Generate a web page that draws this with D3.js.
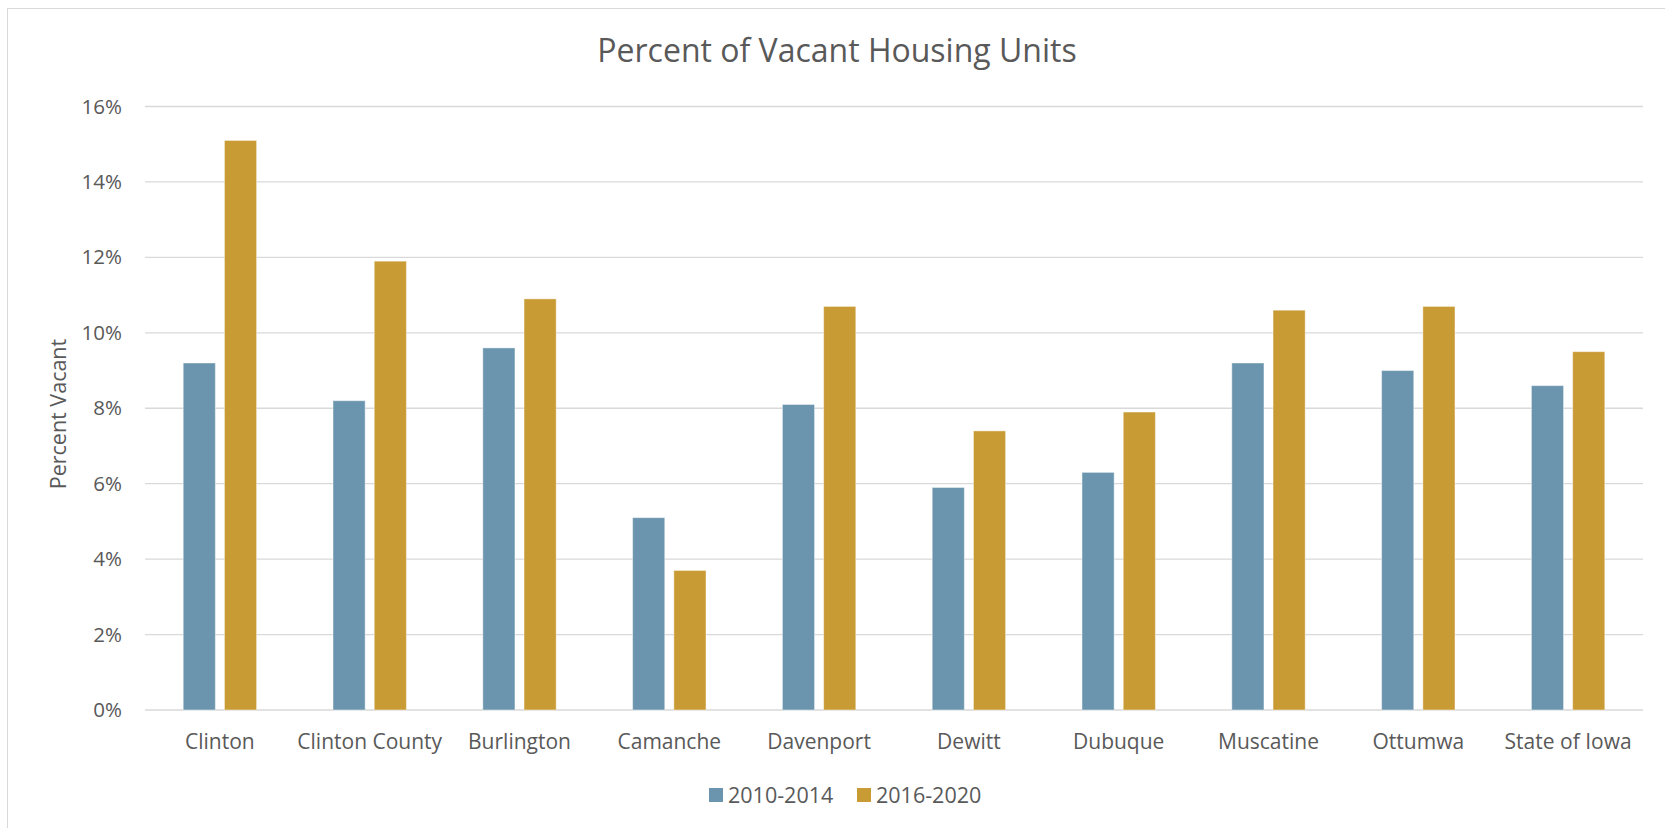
<!DOCTYPE html>
<html lang="en">
<head>
<meta charset="UTF-8">
<script src="https://d3js.org/d3.v7.min.js"></script>
<title>Percent of Vacant Housing Units</title>
<style>
    body { margin: 0; background: #fff; }
    svg text { font-family: "Open Sans", sans-serif; fill: #595959; }
</style>
</head>
<body>
<script>
    // Data
    const places = ['Clinton', 'Clinton County', 'Burlington', 'Camanche', 'Davenport',
        'Dewitt', 'Dubuque', 'Muscatine', 'Ottumwa', 'State of Iowa'];
    const seriesNames = ['2010-2014', '2016-2020'];
    const vacant2010 = [9.2, 8.2, 9.6, 5.1, 8.1, 5.9, 6.3, 9.2, 9.0, 8.6];
    const vacant2016 = [15.1, 11.9, 10.9, 3.7, 10.7, 7.4, 7.9, 10.6, 10.7, 9.5];
    const yTicks = [0, 2, 4, 6, 8, 10, 12, 14, 16];

    const W = 1665, H = 828;
    const colors = d3.scaleOrdinal().domain(seriesNames).range(['#6b95ae', '#c99b34']);

    const svg = d3.select('body').append('svg')
        .attr('width', W)
        .attr('height', H);

    // chart area border
    svg.append('rect')
        .attr('x', 7.5).attr('y', 8.5)
        .attr('width', W).attr('height', H)
        .attr('fill', 'none')
        .attr('stroke', '#d9d9d9');

    const plot = { left: 145, right: 1643, top: 106.5, bottom: 710 };

    const x0 = d3.scaleBand()
        .domain(places)
        .range([plot.left, plot.right])
        .paddingInner(0.51)
        .paddingOuter(0.255);

    const x1 = d3.scaleBand()
        .domain(seriesNames)
        .range([0, x0.bandwidth()])
        .paddingInner(0.22);

    const y = d3.scaleLinear()
        .domain([0, 16])
        .range([plot.bottom, plot.top]);

    // gridlines
    svg.append('g')
        .selectAll('line')
        .data(yTicks)
        .enter()
        .append('line')
        .attr('x1', plot.left)
        .attr('x2', plot.right)
        .attr('y1', d => y(d))
        .attr('y2', d => y(d))
        .attr('stroke', '#d9d9d9')
        .attr('stroke-width', 1.3);

    // y axis labels
    const yAxis = svg.append('g')
        .attr('transform', `translate(${plot.left - 23}, 0)`)
        .call(d3.axisLeft(y).tickValues(yTicks).tickSize(0).tickPadding(0).tickFormat(d => d + '%'));
    yAxis.select('.domain').remove();
    yAxis.selectAll('text')
        .attr('font-size', '20.5px')
        .attr('font-family', '"Open Sans", sans-serif')
        .attr('fill', '#595959');

    // x axis labels
    const xAxis = svg.append('g')
        .attr('transform', `translate(0, ${plot.bottom})`)
        .call(d3.axisBottom(x0).tickSize(0).tickPadding(24));
    xAxis.select('.domain').remove();
    xAxis.selectAll('text')
        .attr('font-size', '21px')
        .attr('font-family', '"Open Sans", sans-serif')
        .attr('fill', '#595959');

    // bars
    const rows = places.map((p, i) => ({ place: p, values: [vacant2010[i], vacant2016[i]] }));

    svg.append('g')
        .selectAll('g')
        .data(rows)
        .enter()
        .append('g')
        .attr('transform', d => `translate(${x0(d.place)}, 0)`)
        .selectAll('rect')
        .data(d => d.values.map((v, j) => ({ key: seriesNames[j], value: v })))
        .enter()
        .append('rect')
        .attr('x', d => x1(d.key))
        .attr('y', d => y(d.value))
        .attr('width', x1.bandwidth())
        .attr('height', d => y(0) - y(d.value))
        .attr('fill', d => colors(d.key))
        .attr('stroke', '#ffffff')
        .attr('stroke-opacity', 0.45)
        .attr('stroke-width', 1);

    // title
    svg.append('text')
        .attr('x', 837)
        .attr('y', 62)
        .attr('text-anchor', 'middle')
        .attr('font-size', '32px')
        .text('Percent of Vacant Housing Units');

    // y axis title
    svg.append('text')
        .attr('transform', 'rotate(-90)')
        .attr('x', -414)
        .attr('y', 66)
        .attr('text-anchor', 'middle')
        .attr('font-size', '21.5px')
        .text('Percent Vacant');

    // legend
    const legend = svg.append('g')
        .selectAll('g')
        .data(seriesNames)
        .enter()
        .append('g')
        .attr('transform', (d, i) => `translate(${709 + i * 148}, 788)`);

    legend.append('rect')
        .attr('width', 14)
        .attr('height', 14)
        .attr('fill', d => colors(d));

    legend.append('text')
        .attr('x', 19)
        .attr('y', 14.5)
        .attr('font-size', '21.5px')
        .text(d => d);
</script>
</body>
</html>
